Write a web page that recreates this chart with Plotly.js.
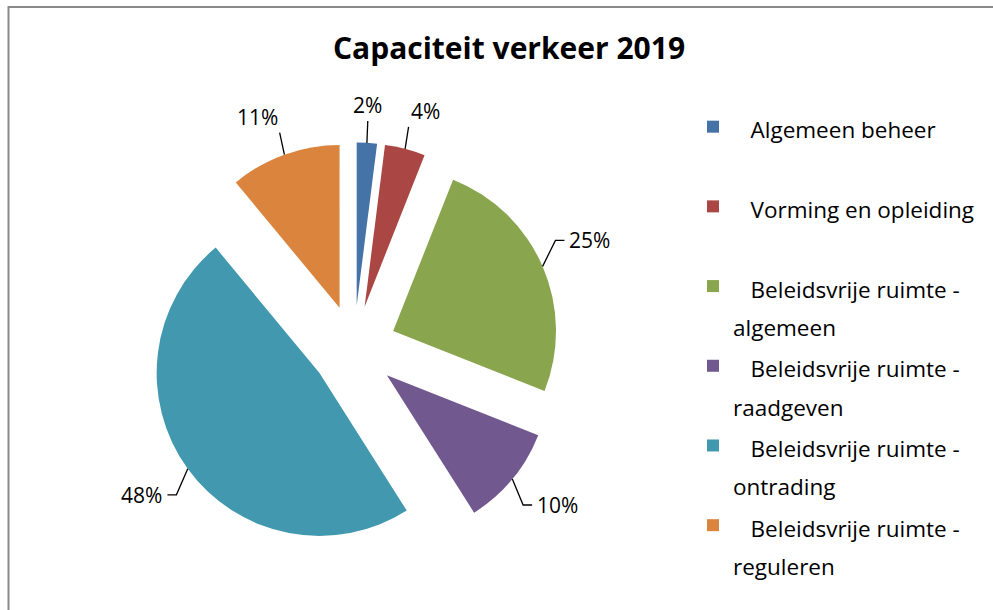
<!DOCTYPE html>
<html><head><meta charset="utf-8">
<script src="https://cdn.plot.ly/plotly-3.0.1.min.js"></script>
<style>html,body{margin:0;padding:0;background:#fff}</style>
</head><body><div id="chart" style="width:993px;height:610px"></div>
<script>
// ---- data ----
const categories = ["Algemeen beheer", "Vorming en opleiding", "Beleidsvrije ruimte - algemeen",
  "Beleidsvrije ruimte - raadgeven", "Beleidsvrije ruimte - ontrading", "Beleidsvrije ruimte - reguleren"];
const shares = [2, 4, 25, 10, 48, 11];
const colors = ["#4572A7", "#AA4643", "#89A54E", "#71588F", "#4198AF", "#DB843D"];
const titleText = "Capaciteit verkeer 2019";

// ---- layout constants ----
const W = 993, H = 610;
const FONT = "Open Sans, Lato, sans-serif";
const pull = 0.262;
const size = 411, ccx = 354, ccy = 348;
const domX = [(ccx - size / 2) / W, (ccx + size / 2) / W];
const domY = [1 - (ccy + size / 2) / H, 1 - (ccy - size / 2) / H];

// pie geometry in px (derived from domain + pull, as Plotly does)
const wpx = (domX[1] - domX[0]) * W, hpx = (domY[1] - domY[0]) * H;
const cx = (domX[0] + domX[1]) / 2 * W;
const cy = (1 - (domY[0] + domY[1]) / 2) * H;
const r = Math.min(wpx, hpx) / (2 + 2 * pull);
const d = pull * r;
const px2x = x => x / W, px2y = y => 1 - y / H;

const total = shares.reduce((a, b) => a + b, 0);
const annotations = [], shapes = [];
let cum = 0;
shares.forEach((v, i) => {
  const th = 2 * Math.PI * (cum + v / 2) / total;
  cum += v;
  const ux = Math.sin(th), uy = -Math.cos(th);
  const ox = cx + (r + d) * ux, oy = cy + (r + d) * uy;
  const side = Math.abs(ux) > 0.7;
  const ex = ox + ux * 14, ey = oy + Math.sign(uy) * (side ? 26 : 22);
  let path = `M${px2x(ox)},${px2y(oy)} L${px2x(ex)},${px2y(ey)}`;
  let tx = ex, ty = ey, xa, ya;
  if (side) {
    const hx = ex + Math.sign(ux) * 9;
    path += ` L${px2x(hx)},${px2y(ey)}`;
    tx = hx + Math.sign(ux) * 3;
    xa = ux > 0 ? 'left' : 'right'; ya = 'middle';
  } else {
    xa = ux > 0.15 ? 'left' : (ux < -0.15 ? 'right' : 'center');
    ya = uy < 0 ? 'bottom' : 'top';
  }
  shapes.push({type: 'path', xref: 'paper', yref: 'paper', path: path,
    line: {color: '#000', width: 1.3}});
  annotations.push({xref: 'paper', yref: 'paper', x: px2x(tx), y: px2y(ty),
    xanchor: xa, yanchor: ya, showarrow: false,
    text: Math.round(v / total * 100) + '%', font: {family: FONT, size: 21, color: '#000'}});
});

// chart border
shapes.push({type: 'rect', xref: 'paper', yref: 'paper', x0: 8.5 / W, x1: 1 + 10 / W,
  y0: -10 / H, y1: 1 - 7 / H, line: {color: '#8a8a8a', width: 2}});

const ind = '\u00A0\u00A0\u00A0';
const legendLabels = categories.map(c => {
  const t = c.indexOf(' - ') >= 0 ? ind + c.replace(' - ', ' -<br>') : ind + c + '<br>\u00A0';
  return '<span style="font-size:22.5px">' + t + '</span>';
});

const trace = {
  type: 'pie', values: shares, labels: legendLabels, sort: false,
  direction: 'clockwise', rotation: 0, pull: pull,
  marker: {colors: colors, line: {width: 0}},
  textinfo: 'none', hoverinfo: 'none',
  domain: {x: domX, y: domY}
};

const layout = {
  width: W, height: H, margin: {l: 0, r: 0, t: 0, b: 0},
  paper_bgcolor: '#fff', plot_bgcolor: '#fff',
  title: {text: titleText, font: {family: FONT, size: 30, weight: 700, color: '#000'},
    x: 509 / W, xref: 'container', xanchor: 'center', y: 1 - 48 / H, yref: 'container', yanchor: 'middle'},
  showlegend: true,
  legend: {x: 693 / W, xanchor: 'left', y: 1 - 101 / H, yanchor: 'top', valign: 'top',
    font: {family: FONT, size: 29.5, color: '#000'}, bgcolor: 'rgba(0,0,0,0)', borderwidth: 0},
  shapes: shapes, annotations: annotations
};

Plotly.newPlot('chart', [trace], layout, {displayModeBar: false, staticPlot: true});
</script></body></html>
